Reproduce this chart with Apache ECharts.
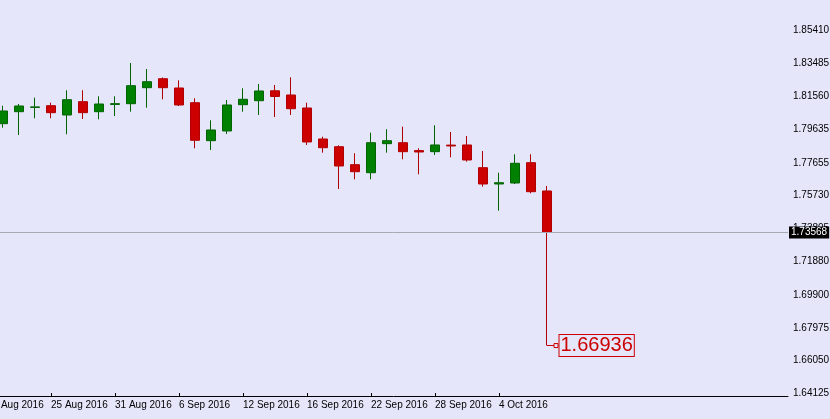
<!DOCTYPE html>
<html lang="en">
<head>
<meta charset="utf-8">
<title>Daily candles, Aug - Oct 2016</title>
<script src="https://cdn.jsdelivr.net/npm/echarts@6/dist/echarts.min.js"></script>
<style>
    html, body { margin: 0; padding: 0; background: #e6e6fa; }
    #main { width: 830px; height: 419px; }
</style>
</head>
<body>
<div id="main"></div>
<script type="text/javascript">
    // one entry per trading day; the first one is just off the left edge
    var dates = ['19 Aug 2016', '22 Aug 2016', '23 Aug 2016', '24 Aug 2016', '25 Aug 2016', '26 Aug 2016',
        '29 Aug 2016', '30 Aug 2016', '31 Aug 2016', '1 Sep 2016', '2 Sep 2016',
        '5 Sep 2016', '6 Sep 2016', '7 Sep 2016', '8 Sep 2016', '9 Sep 2016',
        '12 Sep 2016', '13 Sep 2016', '14 Sep 2016', '15 Sep 2016', '16 Sep 2016',
        '19 Sep 2016', '20 Sep 2016', '21 Sep 2016', '22 Sep 2016', '23 Sep 2016',
        '26 Sep 2016', '27 Sep 2016', '28 Sep 2016', '29 Sep 2016', '30 Sep 2016',
        '3 Oct 2016', '4 Oct 2016', '5 Oct 2016', '6 Oct 2016', '7 Oct 2016'];
    var opens  = [null, 1.79946, 1.80649, 1.80900, 1.81001, 1.80456, 1.81236, 1.80649, 1.81075, 1.81118, 1.82056,
        1.82584, 1.82039, 1.81177, 1.78949, 1.79518, 1.81060, 1.81294, 1.81875, 1.81628, 1.80866,
        1.79048, 1.78597, 1.77541, 1.77072, 1.78773, 1.78831, 1.78368, 1.78304, 1.78690, 1.78697,
        1.77366, 1.76410, 1.76468, 1.77659, 1.75999];
    var closes = [null, 1.80690, 1.80983, 1.80930, 1.80591, 1.81353, 1.80591, 1.81101, 1.81120, 1.82174, 1.82408,
        1.82056, 1.81042, 1.78972, 1.79576, 1.81042, 1.81376, 1.81863, 1.81541, 1.80825, 1.78873,
        1.78538, 1.77465, 1.77131, 1.78831, 1.78949, 1.78304, 1.78286, 1.78697, 1.78640, 1.77817,
        1.76410, 1.76486, 1.77624, 1.75958, 1.73568];
    var lows   = [null, 1.79711, 1.79283, 1.80262, 1.80262, 1.79324, 1.80221, 1.80204, 1.80397, 1.80649, 1.80884,
        1.81376, 1.80983, 1.78503, 1.78403, 1.79342, 1.80649, 1.80456, 1.80338, 1.80456, 1.78697,
        1.78245, 1.76117, 1.76685, 1.76685, 1.78245, 1.77858, 1.76979, 1.78110, 1.77975, 1.77717,
        1.76251, 1.74844, 1.76410, 1.75864, 1.66936];
    var highs  = [null, 1.81001, 1.81101, 1.81470, 1.81177, 1.81904, 1.81904, 1.81552, 1.81552, 1.83505, 1.83153,
        1.82655, 1.82490, 1.81435, 1.80145, 1.81335, 1.82021, 1.82274, 1.82215, 1.82666, 1.81177,
        1.79183, 1.78679, 1.78210, 1.79418, 1.79617, 1.79770, 1.78503, 1.79852, 1.79459, 1.79224,
        1.78345, 1.77072, 1.78151, 1.78151, 1.76292];
    var priceTicks = [1.64125, 1.66050, 1.67975, 1.69900, 1.71880, 1.73805, 1.75730,
        1.77655, 1.79635, 1.81560, 1.83485, 1.85410, 1.87335];
    var lastPrice = 1.73568;
    var lowPrice = 1.66936;

    var last = dates.length - 1;
    var dateTicks = [];
    for (var i = 0; i < dates.length; i += 4) {
        dateTicks.push(i);
    }
    var candles = [];
    for (var i = 0; i < dates.length; i++) {
        if (opens[i] == null) continue;
        candles.push([i, opens[i], closes[i], lows[i], highs[i]]);
    }

    var chart = echarts.init(document.getElementById('main'));
    var txt = { fontFamily: 'Liberation Sans', fontSize: 10, color: '#000' };
    chart.setOption({
        animation: false,
        backgroundColor: '#e6e6fa',
        grid: { left: -21, right: 42, top: -4, bottom: 23, outerBoundsMode: 'none' },
        xAxis: {
            type: 'value',
            min: -0.5,
            max: 50.0625,
            splitLine: { show: false },
            axisLine: { lineStyle: { color: '#000', width: 1 } },
            axisTick: { customValues: dateTicks, inside: true, length: 3, lineStyle: { color: '#000' } },
            axisLabel: {
                customValues: dateTicks,
                align: 'left',
                margin: 4,
                fontFamily: txt.fontFamily, fontSize: txt.fontSize, color: txt.color,
                formatter: function (v) { return dates[Math.round(v)] || ''; }
            }
        },
        yAxis: {
            type: 'value',
            position: 'right',
            min: 1.63978,
            max: 1.87433,
            scale: true,
            splitLine: { show: false },
            axisLine: { show: true, lineStyle: { color: '#000', width: 1 } },
            axisTick: { show: true, customValues: priceTicks, length: 3, lineStyle: { color: '#000' } },
            axisLabel: {
                customValues: priceTicks,
                margin: 5,
                fontFamily: txt.fontFamily, fontSize: txt.fontSize, color: txt.color,
                formatter: function (v) { return v.toFixed(5); }
            }
        },
        series: [{
            type: 'candlestick',
            data: candles,
            encode: { x: 0, y: [1, 2, 3, 4] },
            barWidth: 10,
            itemStyle: {
                color: '#008000',
                color0: '#cc0000',
                borderColor: '#006400',
                borderColor0: '#b00000',
                borderWidth: 1
            },
            markLine: {
                silent: true,
                symbol: 'none',
                precision: 5,
                data: [
                    {
                        yAxis: lastPrice,
                        lineStyle: { color: '#a8a8b0', width: 1, type: 'solid' },
                        label: {
                            position: 'end',
                            distance: 1,
                            formatter: lastPrice.toFixed(5),
                            backgroundColor: '#000',
                            color: '#fff',
                            fontFamily: txt.fontFamily,
                            fontSize: 10,
                            padding: [1, 2, 1, 2]
                        }
                    },
                    [
                        { coord: [last, lowPrice], lineStyle: { color: '#cc0000', width: 1, type: 'solid' }, label: { show: false } },
                        { coord: [last + 0.45, lowPrice] }
                    ]
                ]
            },
            markPoint: {
                silent: true,
                data: [{
                    coord: [last, lowPrice],
                    symbol: 'rect',
                    symbolSize: 4,
                    symbolOffset: [9, 0],
                    itemStyle: { color: '#e6e6fa', borderColor: '#cc0000', borderWidth: 1 },
                    label: {
                        show: true,
                        position: 'right',
                        distance: 1,
                        formatter: lowPrice.toFixed(5),
                        color: '#cc0000',
                        fontFamily: txt.fontFamily,
                        fontSize: 20,
                        borderColor: '#cc0000',
                        borderWidth: 1,
                        backgroundColor: '#e6e6fa',
                        padding: [1, 1, 0, 1]
                    }
                }]
            }
        }]
    });
</script>
</body>
</html>
